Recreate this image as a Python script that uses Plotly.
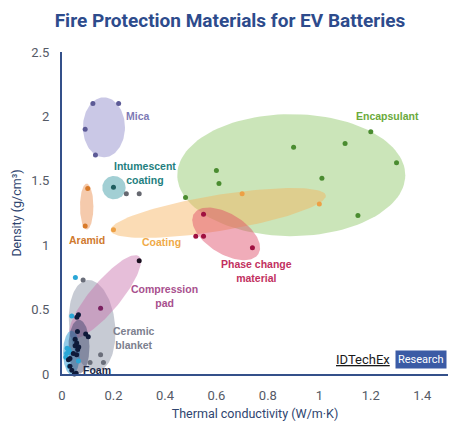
import numpy as np
import plotly.graph_objects as go

# material points: thermal conductivity (W/m.K) vs density (g/cm3)
mica_x = [0.12, 0.22, 0.09, 0.13]
mica_y = [2.10, 2.10, 1.90, 1.70]
intum_x = [0.20, 0.25, 0.30]
intum_y = [1.45, 1.40, 1.40]
aramid_x = [0.10, 0.09]
aramid_y = [1.44, 1.15]
coating_x = [0.20, 0.70, 1.00]
coating_y = [1.12, 1.40, 1.32]
pcm_x = [0.52, 0.55, 0.55, 0.74]
pcm_y = [1.07, 1.07, 1.24, 0.98]
encap_x = [0.48, 0.60, 0.61, 0.90, 1.01, 1.10, 1.20, 1.30, 1.15]
encap_y = [1.37, 1.58, 1.48, 1.76, 1.52, 1.79, 1.88, 1.64, 1.23]
pad_x = [0.30, 0.15]
pad_y = [0.88, 0.51]
ceramic_x = [0.082, 0.109, 0.15, 0.161]
ceramic_y = [0.73, 0.09, 0.15, 0.09]
aerogel_x = [0.052, 0.038, 0.025, 0.018, 0.020, 0.030, 0.064, 0.028, 0.015]
aerogel_y = [0.75, 0.45, 0.19, 0.16, 0.20, 0.17, 0.10, 0.06, 0.13]
foam_x = [0.064, 0.058, 0.092, 0.102, 0.051, 0.057, 0.051, 0.061, 0.044,
          0.057, 0.031, 0.025, 0.031, 0.038, 0.048, 0.055, 0.060, 0.065]
foam_y = [0.46, 0.44, 0.31, 0.29, 0.27, 0.24, 0.22, 0.19, 0.16,
          0.15, 0.12, 0.11, 0.06, 0.03, 0.00, 0.005, 0.33, 0.21]

# ellipse regions: centre (data), semi axes (px), angle (deg)
regions = [
    # name, cx, cy, a, b, angle, fill
    ("Encapsulant", 0.891, 1.544, 114, 61, 0, "rgba(140,197,100,0.45)"),
    ("Coating", 0.607, 1.250, 109, 18, 9.3, "rgba(247,178,90,0.45)"),
    ("Phase change", 0.638, 1.088, 38, 20, -32, "rgba(222,70,100,0.45)"),
    ("Mica", 0.163, 1.915, 21, 30, 0, "rgba(150,145,205,0.5)"),
    ("Intumescent", 0.202, 1.447, 11.7, 11.7, 0, "rgba(70,160,170,0.5)"),
    ("Aramid", 0.096, 1.300, 6.7, 23, 0, "rgba(235,150,90,0.5)"),
    ("Ceramic", 0.117, 0.375, 46, 23, 96, "rgba(130,140,160,0.45)"),
    ("Compression", 0.167, 0.599, 53, 15, 50, "rgba(200,110,170,0.45)"),
    ("Aerogel", 0.037, 0.165, 8.5, 22, 0, "rgba(40,150,210,0.5)"),
    ("Foam", 0.066, 0.212, 10.5, 27, 0, "rgba(50,60,100,0.45)"),
]

W, H = 460, 429
ML, MR, MT, MB = 62, 12, 52, 55
XR, YR = [0, 1.5], [0, 2.5]
sx = (W - ML - MR) / (XR[1] - XR[0])
sy = (H - MT - MB) / (YR[1] - YR[0])


def ellipse(cx, cy, a, b, ang):
    t = np.linspace(0, 2 * np.pi, 120)
    th = np.radians(ang)
    dx = a * np.cos(t) * np.cos(th) - b * np.sin(t) * np.sin(th)
    dy = a * np.cos(t) * np.sin(th) + b * np.sin(t) * np.cos(th)
    return cx + dx / sx, cy + dy / sy


fig = go.Figure()
for name, cx, cy, a, b, ang, fill in regions:
    ex, ey = ellipse(cx, cy, a, b, ang)
    fig.add_trace(go.Scatter(x=ex, y=ey, mode="lines", fill="toself", fillcolor=fill,
                             line=dict(width=0), hoverinfo="skip", name=name))

points = [
    (mica_x, mica_y, "#5c5a96"),
    (intum_x, intum_y, ["#1f5e60", "#666870", "#666870"]),
    (aramid_x, aramid_y, "#d87a2a"),
    (coating_x, coating_y, "#eda045"),
    (pcm_x, pcm_y, "#a01040"),
    (encap_x, encap_y, "#4a8c30"),
    (pad_x, pad_y, ["#1a1020", "#7a2060"]),
    (ceramic_x, ceramic_y, "#6a6e7a"),
    (aerogel_x, aerogel_y, "#2aa6d6"),
    (foam_x, foam_y, "#0e1a3a"),
]
for px, py, col in points:
    fig.add_trace(go.Scatter(x=px, y=py, mode="markers", cliponaxis=False,
                             marker=dict(color=col, size=5), hoverinfo="x+y"))

labels = [
    ("Mica", 0.296, 2.005, "#7d7ab5"),
    ("Intumescent<br>coating", 0.323, 1.557, "#1f7f80"),
    ("Aramid", 0.096, 1.041, "#d07a2e"),
    ("Coating", 0.388, 1.023, "#f0aa48"),
    ("Phase change<br>material", 0.755, 0.80, "#c23060"),
    ("Encapsulant", 1.263, 2.005, "#6aaa3c"),
    ("Compression<br>pad", 0.398, 0.607, "#a8508e"),
    ("Ceramic<br>blanket", 0.281, 0.276, "#7c808e"),
    ("Aerogel", -0.086, 0.155, "#2aa8d2"),
    ("Foam", 0.135, 0.033, "#1c2744"),
]
for txt, lx, ly, col in labels:
    fig.add_annotation(x=lx, y=ly, text="<b>%s</b>" % txt, showarrow=False,
                       font=dict(family="Liberation Sans", size=10.5, color=col))

fig.add_annotation(x=1.17, y=0.11, text="<u>IDTechEx</u>", showarrow=False,
                   font=dict(family="Roboto", size=13, color="#1a1a1a"))
fig.add_annotation(x=1.395, y=0.11, text="Research", showarrow=False, bgcolor="#3b5ba5",
                   borderpad=2, font=dict(family="Roboto", size=11, color="white"))

axis_col = "#34508a"
fig.update_layout(
    width=W, height=H, showlegend=False,
    paper_bgcolor="white", plot_bgcolor="white",
    margin=dict(l=ML, r=MR, t=MT, b=MB),
    title=dict(text="<b>Fire Protection Materials for EV Batteries</b>", x=0.5, xanchor="center",
               y=1 - 20 / H, yanchor="middle", xref="container", yref="container",
               font=dict(family="Roboto", size=19, color="#2d4b8c")),
    font=dict(family="Roboto", color="#555a66"),
    xaxis=dict(range=XR, dtick=0.2, showgrid=False, zeroline=False, showline=True,
               linecolor=axis_col, linewidth=2, ticklabelstandoff=8, automargin=False,
               tickfont=dict(size=13, color="#555a66"),
               title=dict(text="Thermal conductivity (W/m·K)", standoff=8,
                          font=dict(size=12.5, color="#2f4570"))),
    yaxis=dict(range=YR, dtick=0.5, showgrid=False, zeroline=False, showline=True,
               linecolor=axis_col, linewidth=2, ticklabelstandoff=8, automargin=False,
               tickfont=dict(size=13, color="#555a66"),
               title=dict(text="Density (g/cm³)", standoff=7,
                          font=dict(size=12.5, color="#2f4570"))),
)

fig.write_html("out.html", config={"displayModeBar": False},
               post_script="document.body.style.margin='0';")
